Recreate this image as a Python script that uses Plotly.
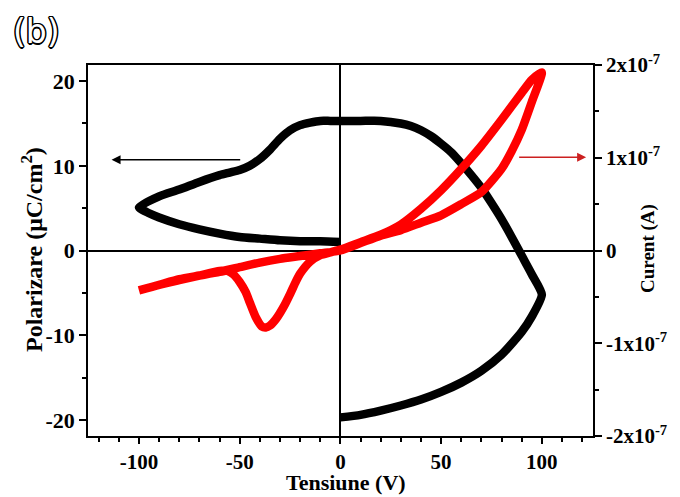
import plotly.graph_objects as go

# Polarization loop (black), voltage in V, polarization in uC/cm^2
pol_v = [0, 10, 20, 30, 40, 50, 60, 70, 80, 90, 95, 100,
         95, 90, 85, 80, 75, 70, 65, 60, 55, 50, 45, 40, 35, 30, 20, 10, 0,
         -5, -10, -15, -20, -25, -30, -35, -40, -45, -50, -55, -60, -70, -80, -90, -100,
         -95, -90, -80, -70, -60, -50, -40, -30, -20, -10, 0]
pol_p = [-19.7, -19.4, -18.9, -18.3, -17.6, -16.7, -15.6, -14.2, -12.3, -9.6, -7.8, -5.2,
         -2.8, -0.6, 1.6, 3.7, 5.6, 7.4, 8.9, 10.3, 11.6, 12.6, 13.5, 14.2, 14.7, 15.0, 15.3, 15.3, 15.3,
         15.3, 15.3, 15.1, 14.8, 14.2, 13.2, 11.9, 10.8, 10.0, 9.5, 9.2, 8.9, 8.1, 7.2, 6.4, 5.1,
         4.4, 3.9, 3.1, 2.5, 2.0, 1.6, 1.4, 1.2, 1.1, 1.1, 1.0]

# Current loop (red), voltage in V, current in units of 1e-7 A
cur_v = [0, 10, 20, 30, 40, 50, 60, 70, 80, 85, 90, 95, 100,
         95, 90, 80, 70, 60, 50, 40, 30, 20, 10, 0,
         -5, -10, -15, -20, -22, -25, -28, -32, -35, -37, -39, -42, -45, -47, -50, -53, -56, -60,
         -70, -80, -90, -100,
         -90, -80, -70, -60, -50, -40, -30, -20, -10, 0]
cur_i = [0.0, 0.08, 0.16, 0.22, 0.30, 0.38, 0.50, 0.63, 0.88, 1.07, 1.30, 1.60, 1.92,
         1.84, 1.70, 1.41, 1.13, 0.88, 0.65, 0.45, 0.28, 0.17, 0.09, 0.01,
         -0.02, -0.05, -0.12, -0.25, -0.33, -0.47, -0.60, -0.74, -0.81, -0.83, -0.82, -0.72, -0.56, -0.45, -0.34, -0.26, -0.22, -0.22,
         -0.27, -0.32, -0.37, -0.43,
         -0.37, -0.31, -0.27, -0.23, -0.18, -0.13, -0.09, -0.06, -0.03, 0.0]

x_ticks = [-100, -50, 0, 50, 100]
x_labels = ["-100", "-50", "0", "50", "100"]
y_ticks = [-20, -10, 0, 10, 20]
y_labels = ["-20", "-10", "0", "10", "20"]
y2_ticks = [-2, -1, 0, 1, 2]
y2_labels = ["-2x10<sup>-7</sup>", "-1x10<sup>-7</sup>", "0", "1x10<sup>-7</sup>", "2x10<sup>-7</sup>"]

FONT = "Liberation Serif"
tickfont = dict(family=FONT, size=22, color="black", weight="bold")
xtickfont = dict(family=FONT, size=21, color="black", weight="bold")
tickfont2 = dict(family=FONT, size=21, color="black", weight="bold")

# page is offset by the 8px body margin; plot area in page px: x 88..593, y 65..436
PL, PT, PW, PH = 88, 65, 505, 371


def px(xp):
    return (xp - PL) / PW


def py(yp):
    return (PT + PH - yp) / PH


fig = go.Figure()
fig.add_trace(go.Scatter(x=pol_v, y=pol_p, mode="lines",
                         line=dict(color="black", width=8.5, shape="spline", smoothing=0.6),
                         showlegend=False))
fig.add_trace(go.Scatter(x=cur_v, y=cur_i, mode="lines", yaxis="y2",
                         line=dict(color="#ff0000", width=8.5, shape="spline", smoothing=0.6),
                         showlegend=False))

fig.update_layout(
    width=672, height=489,
    margin=dict(l=80, r=87, t=57, b=61, autoexpand=False),
    plot_bgcolor="white", paper_bgcolor="white",
    xaxis=dict(range=[-125.3, 125.4], tickmode="array", tickvals=x_ticks, ticktext=x_labels,
               ticks="outside", ticklen=6,
               tickwidth=1.5, tickcolor="black", automargin=False,
               minor=dict(dtick=10, tick0=0, ticks="outside", ticklen=4, tickcolor="black", tickwidth=1.5),
               showline=True, linecolor="black", linewidth=1.5, mirror=True,
               zeroline=True, zerolinecolor="black", zerolinewidth=1.5,
               showgrid=False, tickfont=xtickfont),
    yaxis=dict(range=[-21.9, 21.9], tickmode="array", tickvals=y_ticks, ticktext=y_labels,
               ticks="outside", ticklen=7,
               tickwidth=1.5, tickcolor="black", automargin=False,
               minor=dict(dtick=5, tick0=0, ticks="outside", ticklen=4, tickcolor="black", tickwidth=1.5),
               showline=True, linecolor="black", linewidth=1.5,
               zeroline=True, zerolinecolor="black", zerolinewidth=1.5,
               showgrid=False, tickfont=tickfont),
    yaxis2=dict(range=[-2.0, 2.0], overlaying="y", side="right",
                tickmode="array", tickvals=y2_ticks, ticktext=y2_labels,
                ticks="outside", ticklen=7, tickwidth=1.5, tickcolor="black", automargin=False,
                minor=dict(tickvals=[-1.5, -0.5, 0.5, 1.5], ticks="outside", ticklen=4,
                           tickcolor="black", tickwidth=1.5),
                showline=True, linecolor="black", linewidth=1.5,
                zeroline=False, showgrid=False, tickfont=tickfont2),
)

outline = ("1.5px 0 0 black, -1.5px 0 0 black, 0 1.5px 0 black, 0 -1.5px 0 black, "
           "1px 1px 0 black, -1px -1px 0 black, 1px -1px 0 black, -1px 1px 0 black")

annotations = [
    dict(text="Tensiune (V)", xref="paper", yref="paper", x=px(346), y=py(483),
         showarrow=False, xanchor="center", yanchor="middle",
         font=dict(family=FONT, size=22, color="black", weight="bold")),
    dict(text="Polarizare (μC/cm<sup>2</sup>)", xref="paper", yref="paper",
         x=px(32), y=py(250), textangle=-90,
         showarrow=False, xanchor="center", yanchor="middle",
         font=dict(family=FONT, size=24, color="black", weight="bold")),
    dict(text="Curent (A)", xref="paper", yref="paper",
         x=px(648), y=py(249), textangle=-90,
         showarrow=False, xanchor="center", yanchor="middle",
         font=dict(family=FONT, size=19, color="black", weight="bold")),
    dict(text="(b)", xref="paper", yref="paper",
         x=px(36), y=py(32),
         showarrow=False, xanchor="center", yanchor="middle",
         font=dict(family="DejaVu Sans", size=33, color="white", shadow=outline)),
    dict(x=-113.6, y=10.7, ax=-49, ay=10.7, xref="x", yref="y", axref="x", ayref="y",
         showarrow=True, arrowhead=2, arrowsize=1.2, arrowwidth=1.5, arrowcolor="black", text=""),
    dict(x=122, y=11.0, ax=88, ay=11.0, xref="x", yref="y", axref="x", ayref="y",
         showarrow=True, arrowhead=2, arrowsize=1.2, arrowwidth=1.5, arrowcolor="#cc2020", text=""),
]
fig.update_layout(annotations=annotations)

fig.write_html("out.html")
